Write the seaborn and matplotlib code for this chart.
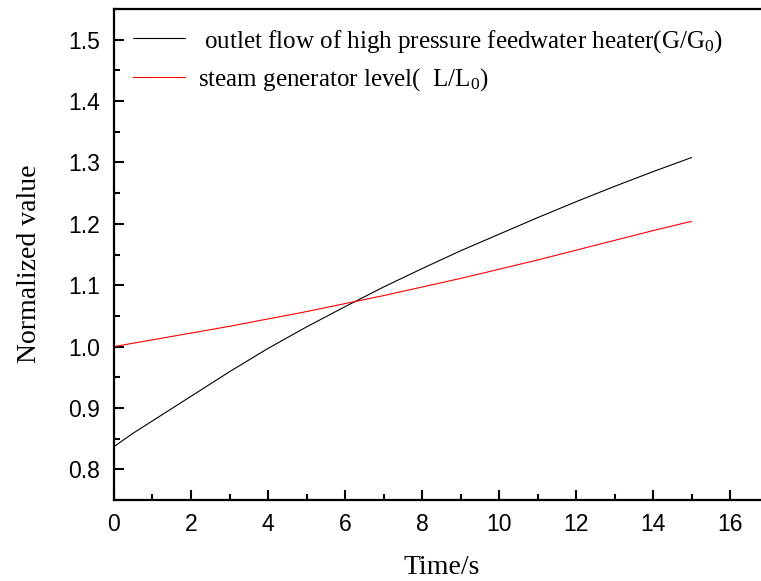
import numpy as np
import pandas as pd
import matplotlib
matplotlib.use("Agg")
import matplotlib.pyplot as plt
import seaborn as sns
from matplotlib.ticker import MultipleLocator

time_s = [0, 0.5, 1, 1.5, 2, 3, 4, 5, 6, 7, 8, 9, 10, 11, 12, 13, 14, 15]
flow_ratio = [0.837, 0.859, 0.879, 0.899, 0.919, 0.959, 0.997, 1.032, 1.065, 1.097,
              1.127, 1.156, 1.183, 1.210, 1.236, 1.261, 1.285, 1.308]
level_ratio = [1.000, 1.0055, 1.011, 1.0165, 1.022, 1.033, 1.045, 1.057, 1.070,
               1.083, 1.097, 1.111, 1.126, 1.141, 1.157, 1.173, 1.189, 1.204]

label_flow = " outlet flow of high pressure feedwater heater(G/G$_0$)"
label_level = "steam generator level(  L/L$_0$)"

df = pd.concat([
    pd.DataFrame({"t": time_s, "v": flow_ratio, "series": label_flow}),
    pd.DataFrame({"t": time_s, "v": level_ratio, "series": label_level}),
])

sns.set_theme(style="ticks")
plt.rcParams.update({
    "text.color": "black",
    "axes.labelcolor": "black",
    "axes.edgecolor": "black",
    "xtick.color": "black",
    "ytick.color": "black",
    "mathtext.fontset": "custom",
    "mathtext.rm": "Liberation Serif",
    "mathtext.it": "Liberation Serif:italic",
})

fig = plt.figure(figsize=(7.61, 5.81), dpi=100)
ax = fig.add_axes([0.1498, 0.1394, 0.8601, 0.8451])

sns.lineplot(data=df, x="t", y="v", hue="series",
             palette={label_flow: "#000000", label_level: "#ff0000"},
             linewidth=0.8, ax=ax, legend=True)

ax.set_xlim(0, 17)
ax.set_ylim(0.75, 1.55)
ax.xaxis.set_major_locator(MultipleLocator(2))
ax.xaxis.set_minor_locator(MultipleLocator(1))
ax.yaxis.set_minor_locator(MultipleLocator(0.05))
ax.set_yticks([0.8, 0.9, 1.0, 1.1, 1.2, 1.3, 1.4, 1.5])
ax.set_yticklabels(["0.8", "0.9", "1.0", "1.1", "1.2", "1.3", "1.4", "1.5"])

ax.tick_params(axis="y", which="major", direction="in", length=7.5, width=1.5,
               labelsize=16.5, pad=10)
ax.tick_params(axis="x", which="major", direction="in", length=7.5, width=1.5,
               labelsize=16.5, pad=9)
ax.tick_params(which="minor", direction="in", length=4, width=1.5)
for lab in ax.get_xticklabels() + ax.get_yticklabels():
    lab.set_fontfamily("Liberation Sans")
for s in ax.spines.values():
    s.set_linewidth(1.6)

ax.set_xlabel("Time/s", fontfamily="Liberation Serif", fontsize=20, labelpad=14)
ax.set_ylabel("Normalized value", fontfamily="Liberation Serif", fontsize=20)
ax.yaxis.set_label_coords(-0.11, 0.482)

leg = ax.legend(loc="upper left", frameon=False, handlelength=2.1,
                prop={"family": "Liberation Serif", "size": 18},
                labelspacing=0.45, borderaxespad=0.35, borderpad=0.4,
                handletextpad=0.5)
for line in leg.get_lines():
    line.set_linewidth(0.8)

fig.savefig("out.png", dpi=100)
